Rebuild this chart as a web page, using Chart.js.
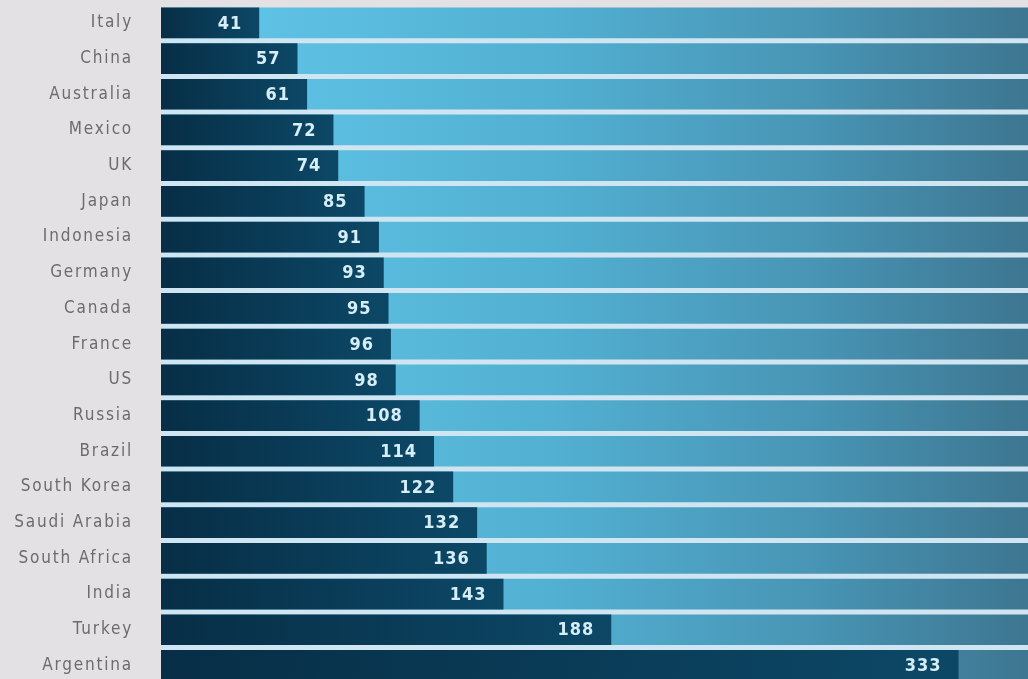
<!DOCTYPE html>
<html>
<head>
<meta charset="utf-8">
<title>Bars</title>
<script src="https://cdn.jsdelivr.net/npm/chart.js@4/dist/chart.umd.min.js"></script>
<style>
  html, body { margin: 0; padding: 0; background: #e3e1e3; overflow: hidden; }
  #wrap { width: 1028px; height: 679px; overflow: hidden; }
  canvas { display: block; }
</style>
</head>
<body>
<div id="wrap"><canvas id="chart" width="1028" height="688"></canvas></div>
<script>
var countries = ["Italy", "China", "Australia", "Mexico", "UK", "Japan", "Indonesia", "Germany",
  "Canada", "France", "US", "Russia", "Brazil", "South Korea", "Saudi Arabia", "South Africa",
  "India", "Turkey", "Argentina"];
var values = [41, 57, 61, 72, 74, 85, 91, 93, 95, 96, 98, 108, 114, 122, 132, 136, 143, 188, 333];
var xMax = 362;

// full-width track behind every bar
var track = countries.map(function () { return xMax; });

function trackFill(context) {
  var chart = context.chart;
  var area = chart.chartArea;
  if (!area) return "#52b0d0";
  var g = chart.ctx.createLinearGradient(area.left, 0, area.right, 0);
  g.addColorStop(0, "#62c8ea");
  g.addColorStop(0.45, "#52b0d2");
  g.addColorStop(0.75, "#4895b5");
  g.addColorStop(1, "#3d7690");
  return g;
}

function barFill(context) {
  var chart = context.chart;
  var area = chart.chartArea;
  if (!area) return "#0a3d5a";
  var v = context.raw || 0;
  var end = chart.scales.x.getPixelForValue(v);
  var g = chart.ctx.createLinearGradient(area.left, 0, Math.max(end, area.left + 1), 0);
  g.addColorStop(0, "#072e46");
  g.addColorStop(1, "#0c4866");
  return g;
}

// value text at the end of each dark bar
var valueLabels = {
  id: "valueLabels",
  afterDatasetsDraw: function (chart) {
    var meta = chart.getDatasetMeta(0);
    var ctx = chart.ctx;
    ctx.save();
    ctx.font = "bold 18px 'DejaVu Sans Condensed', 'DejaVu Sans', sans-serif";
    ctx.fillStyle = "#d6eef8";
    ctx.textAlign = "right";
    ctx.textBaseline = "middle";
    ctx.letterSpacing = "1px";
    for (var i = 0; i < meta.data.length; i++) {
      var bar = meta.data[i];
      ctx.fillText(String(values[i]), bar.x - 17, bar.y + 1);
    }
    ctx.restore();
  }
};

var spacing = {
  id: "spacing",
  beforeDraw: function (chart) {
    chart.ctx.letterSpacing = "1.8px";
  }
};

new Chart(document.getElementById("chart"), {
  type: "bar",
  data: {
    labels: countries,
    datasets: [
      {
        data: values,
        backgroundColor: barFill,
        borderWidth: 0,
        grouped: false,
        order: 1,
        barPercentage: 0.86,
        categoryPercentage: 1
      },
      {
        data: track,
        backgroundColor: trackFill,
        borderWidth: 0,
        grouped: false,
        order: 2,
        barPercentage: 0.86,
        categoryPercentage: 1
      }
    ]
  },
  options: {
    indexAxis: "y",
    responsive: false,
    animation: false,
    devicePixelRatio: 1,
    layout: { padding: { top: 5, right: 0, bottom: 0, left: 0 } },
    plugins: {
      legend: { display: false },
      tooltip: { enabled: false }
    },
    scales: {
      x: {
        display: false,
        min: 0,
        max: xMax
      },
      y: {
        afterFit: function (scale) { scale.width = 161; },
        border: { display: false },
        grid: {
          offset: true,
          drawTicks: true,
          tickLength: 28,
          tickColor: "rgba(0,0,0,0)",
          lineWidth: 5,
          color: function (c) { return c.index === 0 ? "rgba(0,0,0,0)" : "#cfe6f2"; }
        },
        ticks: {
          padding: 0,
          color: "#6c6c6c",
          font: { family: "'DejaVu Sans Condensed', 'DejaVu Sans', sans-serif", size: 17, lineHeight: 0.55 }
        }
      }
    }
  },
  plugins: [spacing, valueLabels]
});
</script>
</body>
</html>
